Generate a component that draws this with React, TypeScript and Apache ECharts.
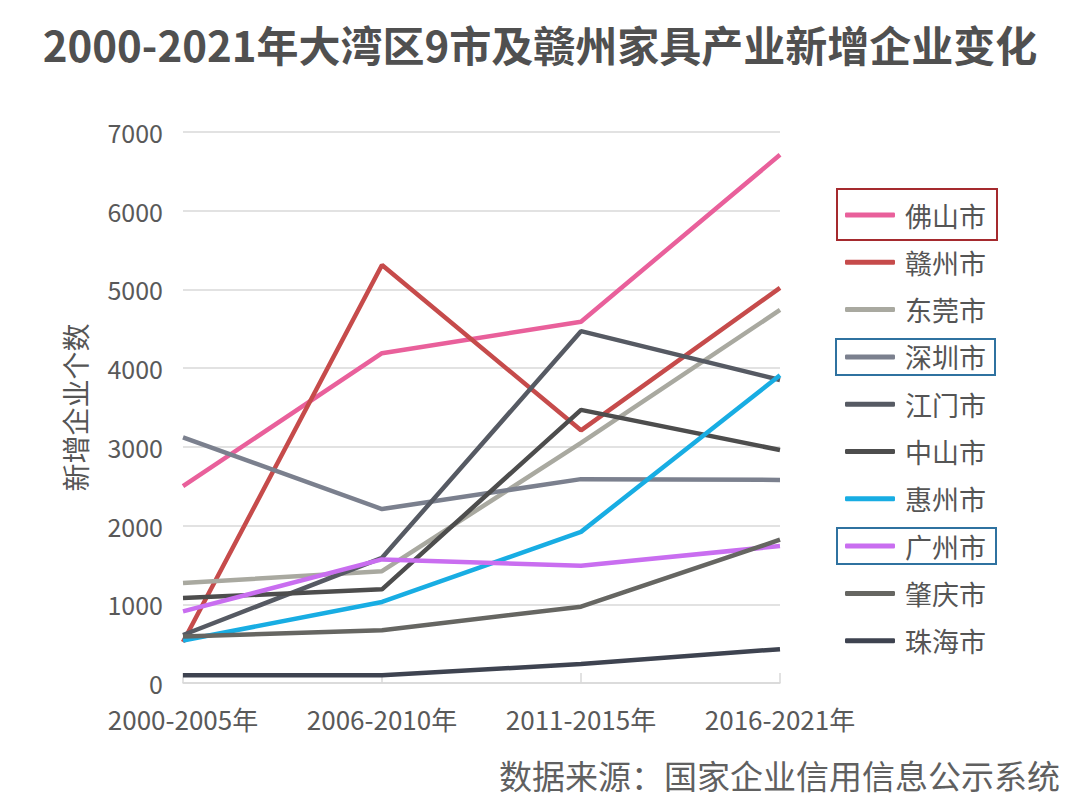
import React, { useEffect, useRef } from "react";
import * as echarts from "echarts";

const categories = ["2000-2005年", "2006-2010年", "2011-2015年", "2016-2021年"];
const cities = ["佛山市", "赣州市", "东莞市", "深圳市", "江门市", "中山市", "惠州市", "广州市", "肇庆市", "珠海市"];
const foshan = [2500, 4190, 4590, 6710];
const ganzhou = [520, 5310, 3210, 5020];
const dongguan = [1270, 1420, 3050, 4740];
const shenzhen = [3120, 2210, 2590, 2580];
const jiangmen = [610, 1590, 4470, 3850];
const zhongshan = [1080, 1190, 3470, 2960];
const huizhou = [540, 1030, 1920, 3910];
const guangzhou = [910, 1570, 1490, 1740];
const zhaoqing = [590, 670, 970, 1820];
const zhuhai = [100, 100, 240, 430];
const seriesValues = [foshan, ganzhou, dongguan, shenzhen, jiangmen, zhongshan, huizhou, guangzhou, zhaoqing, zhuhai];
const colors = ["#E9609B", "#C64B4B", "#A9A9A0", "#7B808E", "#565A63", "#4D4D4D", "#18ADE3", "#C96EF0", "#666662", "#3E4350"];

const FONT = "'Noto Sans CJK SC', 'Noto Sans', sans-serif";

export default function App() {
  const ref = useRef<HTMLDivElement>(null);
  useEffect(() => {
    if (!ref.current) return;
    const chart = echarts.init(ref.current, null, { renderer: "svg" });
    chart.setOption({
      animation: false,
      backgroundColor: "#ffffff",
      textStyle: { fontFamily: FONT },
      title: {
        text: "2000-2021年大湾区9市及赣州家具产业新增企业变化",
        left: "center",
        top: 17,
        textStyle: { fontSize: 42, fontWeight: "bold", color: "#505050", fontFamily: FONT },
      },
      grid: { left: 183, right: 300, top: 132, bottom: 127, containLabel: false },
      legend: {
        orient: "vertical",
        left: 845,
        top: 201.5,
        padding: 0,
        itemWidth: 50,
        itemHeight: 5,
        itemGap: 20.3,
        icon: "roundRect",
        data: cities,
        textStyle: { fontSize: 27, color: "#555555", lineHeight: 26, fontFamily: FONT, padding: [0, 0, 0, 5] },
      },
      xAxis: {
        type: "category",
        data: categories,
        boundaryGap: false,
        axisLine: { show: true, lineStyle: { color: "#d9d9d9", width: 1.5 } },
        axisTick: { show: true, inside: true, length: 10, lineStyle: { color: "#d9d9d9", width: 1.5 } },
        axisLabel: { fontSize: 26, color: "#595959", margin: 22, fontFamily: FONT },
      },
      yAxis: {
        type: "value",
        min: 0,
        max: 7000,
        interval: 1000,
        name: "新增企业个数",
        nameLocation: "middle",
        nameGap: 94,
        nameRotate: 90,
        nameTextStyle: { fontSize: 28, color: "#555555", fontFamily: FONT },
        axisLine: { show: false },
        axisTick: { show: false },
        splitLine: { lineStyle: { color: "#d9d9d9", width: 1.5 } },
        axisLabel: { fontSize: 25, color: "#595959", margin: 20, fontFamily: FONT, formatter: (v: number) => String(v) },
      },
      series: cities.map((name, i) => ({
        name,
        type: "line",
        data: seriesValues[i],
        symbol: "none",
        color: colors[i],
        itemStyle: { color: colors[i] },
        lineStyle: { color: colors[i], width: 4.5 },
        z: 2,
      })),
      graphic: [
        { type: "rect", shape: { x: 837, y: 189, width: 160, height: 51 }, style: { fill: "none", stroke: "#A52A2E", lineWidth: 2 } },
        { type: "rect", shape: { x: 836, y: 339, width: 159, height: 36 }, style: { fill: "none", stroke: "#2F72A0", lineWidth: 2 } },
        { type: "rect", shape: { x: 837, y: 528, width: 159, height: 36 }, style: { fill: "none", stroke: "#2F72A0", lineWidth: 2 } },
        {
          type: "text",
          right: 20,
          top: 758,
          style: { text: "数据来源：国家企业信用信息公示系统", fontSize: 33, fill: "#606060", fontFamily: FONT },
        },
      ],
    });
    return () => chart.dispose();
  }, []);
  return <div ref={ref} style={{ width: 1080, height: 810, position: "absolute", left: 0, top: 0 }} />;
}
